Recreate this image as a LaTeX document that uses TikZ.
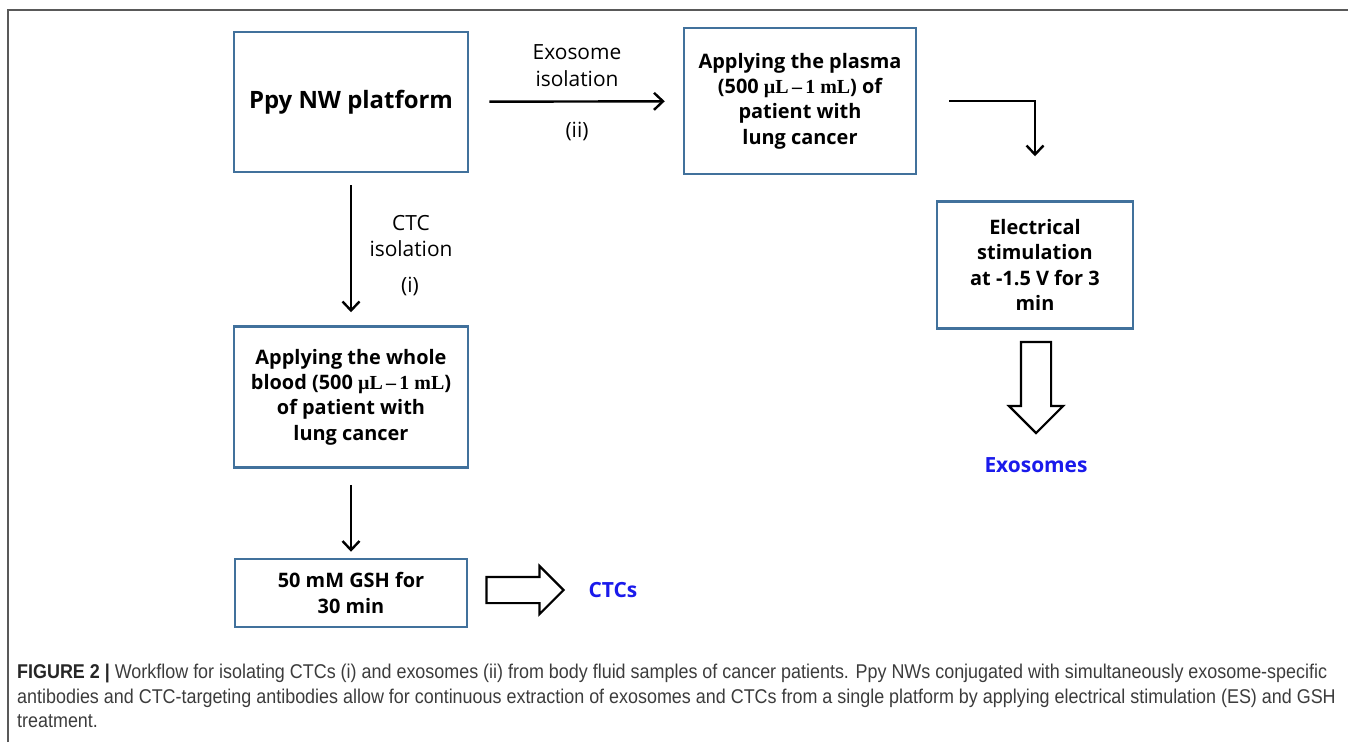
\documentclass[tikz,border=0pt]{standalone}
\usepackage{fontspec}
\setmainfont{Open Sans}
\newfontfamily\serfont{Liberation Serif}
\newfontfamily\capfont[FakeStretch=0.9]{Liberation Sans}
\usetikzlibrary{positioning,arrows.meta,shapes.arrows}
\definecolor{boxblue}{RGB}{65,113,156}
\definecolor{resultblue}{RGB}{26,26,235}
\definecolor{capgray}{RGB}{60,60,60}
\newcommand{\vol}{{\serfont\bfseries µL\,–\,1 mL}}

\begin{document}
\begin{tikzpicture}[x=1bp, y=-1bp,
    box/.style={rectangle, draw=boxblue, line width=2.5bp, inner sep=0pt, align=center, font=\fontsize{20}{25.5}\selectfont\bfseries},
    arrow/.style={-{Straight Barb[length=9bp,width=17bp]}, line width=2.4bp},
    steplabel/.style={align=center, font=\fontsize{21}{27}\selectfont},
    hollow/.style={single arrow, draw, line width=2.2bp, inner xsep=0pt, single arrow head indent=0pt},
    result/.style={text=resultblue, font=\fontsize{21}{25}\selectfont\bfseries}
  ]
    \useasboundingbox (0,0) rectangle (1348,742);
    \draw[black!65, line width=1.5bp] (8,742) |- (1348,10);

    \node[box, minimum width=234bp, minimum height=140bp] at (351,102) (platform) {\fontsize{24}{28}\selectfont Ppy NW platform};
    \node[box, minimum width=232bp, minimum height=146bp] at (800,101) (plasma)   {Applying the plasma\\(500 \vol) of\\patient with\\lung cancer};
    \node[box, minimum width=196bp, minimum height=127bp] at (1035,265) (stim)    {Electrical\\stimulation\\at -1.5 V for 3\\min};
    \node[box, minimum width=234bp, minimum height=141bp] at (351,397) (blood)    {Applying the whole\\blood (500 \vol)\\of patient with\\lung cancer};
    \node[box, minimum width=232bp, minimum height=68bp]  at (351,593) (gsh)      {50 mM GSH for\\30 min};

    \node[steplabel] at (577,66)  (exolbl) {Exosome\\isolation};
    \node[steplabel] at (577,131) (exonum) {(ii)};
    \node[steplabel] at (411,236) (ctclbl) {CTC\\isolation};
    \node[steplabel] at (410,286) (ctcnum) {(i)};

    \node[hollow, rotate=-90, minimum height=91bp, inner ysep=14bp, single arrow head extend=12bp] at (1036,380) (exoout) {};
    \node[hollow, minimum height=77bp, inner ysep=12bp, single arrow head extend=11bp] at (518.5,590) (ctcout) {};
    \node[result] at (1036,465) (exosomes) {Exosomes};
    \node[result] at (613,590)  (ctcs)     {CTCs};

    \draw[arrow, shorten <=20bp, shorten >=18bp] (platform) -- (plasma);
    \draw[arrow, shorten <=32bp, shorten >=44bp] (plasma.east) -| (stim.north);
    \draw[arrow, shorten <=12bp, shorten >=13bp] (platform) -- (blood);
    \draw[arrow, shorten <=16bp, shorten >=6bp] (blood) -- (gsh);

    \node[anchor=north west, align=left, inner sep=0pt, text=capgray, font=\capfont\fontsize{20}{24.5}\selectfont] at (17,664) (caption)
      {{\bfseries\color{black!85}FIGURE 2 |} Workflow for isolating CTCs (i) and exosomes (ii) from body fluid samples of cancer patients. Ppy NWs conjugated with simultaneously exosome-specific\\
       antibodies and CTC-targeting antibodies allow for continuous extraction of exosomes and CTCs from a single platform by applying electrical stimulation (ES) and GSH\\
       treatment.};
  \end{tikzpicture}
\end{document}
